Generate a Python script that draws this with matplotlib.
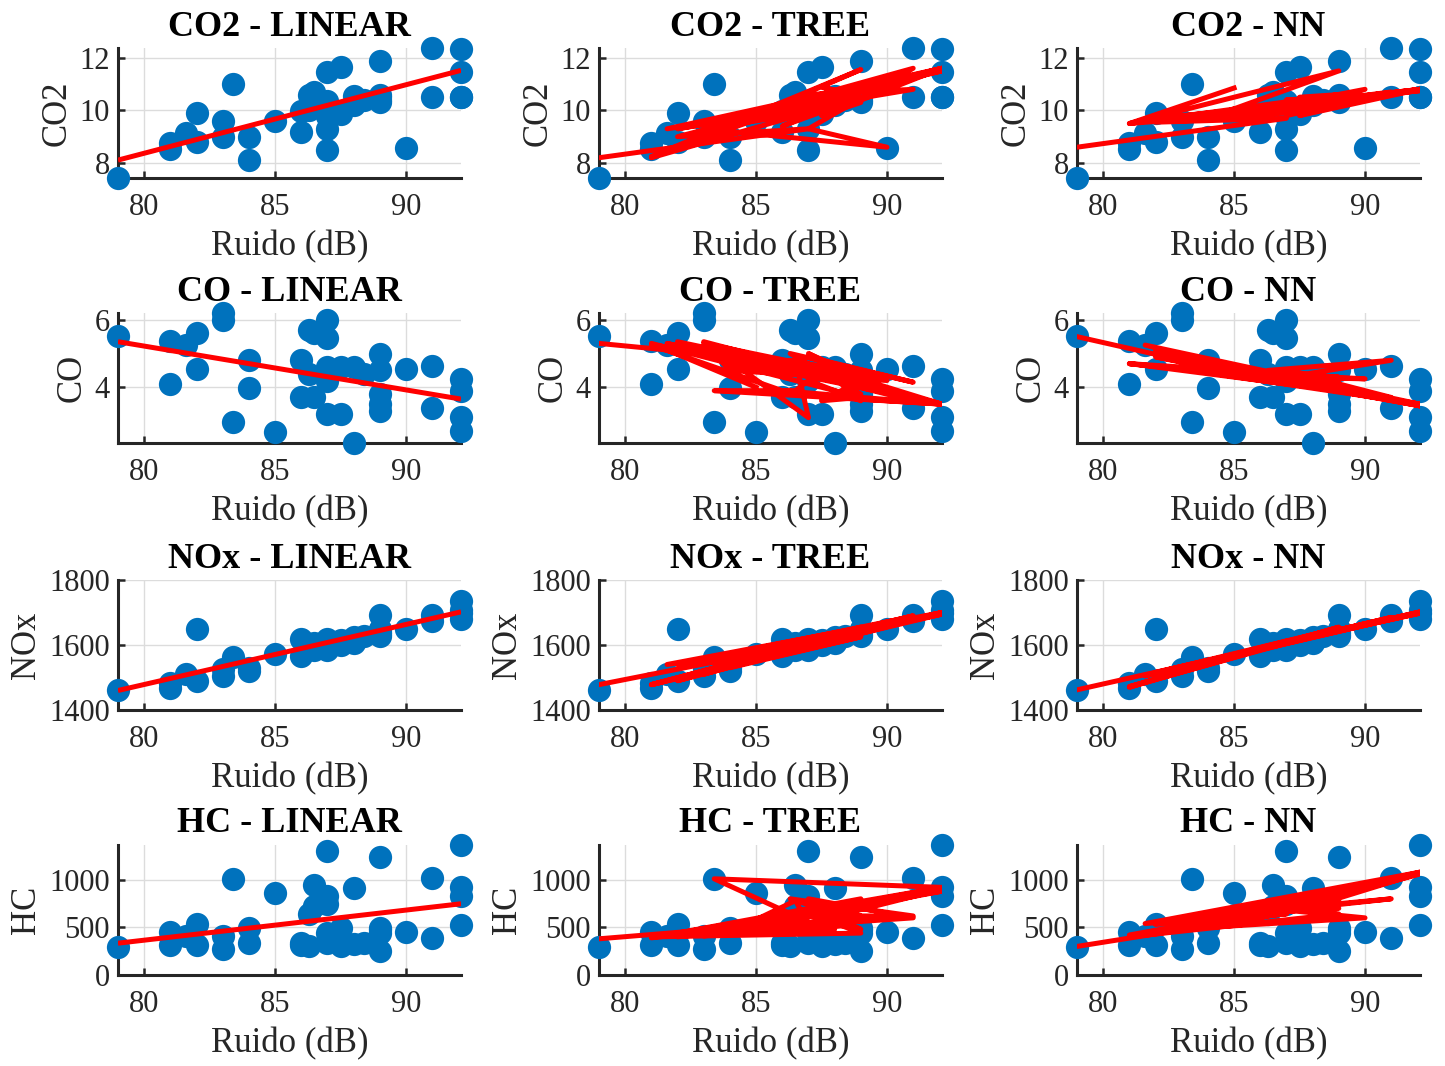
import numpy as np
import matplotlib
matplotlib.use("Agg")
import matplotlib.pyplot as plt

plt.rcParams["font.family"] = ["Liberation Serif", "DejaVu Serif"]

# ruido (dB) de cada ensayo, ordenado de menor a mayor
ruido = [79.0, 81.0, 81.0, 81.6, 82.0, 82.0, 83.0, 83.0, 83.4, 84.0,
         84.0, 85.0, 86.0, 86.0, 86.3, 86.3, 86.5, 86.5, 87.0, 87.0,
         87.0, 87.0, 87.0, 87.5, 87.5, 88.0, 88.0, 88.4, 89.0, 89.0,
         89.0, 89.0, 89.0, 90.0, 91.0, 91.0, 92.1, 92.1, 92.1, 92.1]

# emisiones medidas
co2 = [7.43, 8.75, 8.55, 9.14, 9.90, 8.80, 9.60, 9.00, 11.0, 9.00,
       8.13, 9.60, 9.16, 9.97, 10.6, 10.0, 10.7, 10.3, 11.45, 9.30,
       8.50, 10.36, 9.80, 11.65, 9.85, 10.55, 10.2, 10.4, 11.86, 10.4,
       10.6, 10.3, 10.5, 8.58, 12.38, 10.5, 12.35, 11.45, 10.5, 10.5]
co = [5.52, 5.38, 4.10, 5.25, 5.60, 4.53, 6.20, 6.00, 2.98, 4.80,
      3.97, 2.67, 4.80, 3.70, 5.70, 4.40, 3.70, 5.60, 6.00, 5.45,
      4.60, 4.20, 3.20, 3.20, 4.60, 2.35, 4.60, 4.40, 5.00, 4.50,
      3.80, 3.50, 3.30, 4.53, 4.63, 3.40, 4.25, 3.90, 3.13, 2.72]
nox = [1461, 1484, 1468, 1510, 1648, 1489, 1525, 1504, 1562, 1520,
       1530, 1572, 1619, 1567, 1600, 1590, 1605, 1585, 1610, 1590,
       1585, 1600, 1620, 1615, 1600, 1625, 1605, 1629, 1691, 1629,
       1640, 1650, 1635, 1648, 1691, 1673, 1736, 1707, 1681, 1700]
hc = [296, 452, 317, 410, 532, 317, 410, 271, 1009, 497,
      341, 863, 341, 320, 636, 306, 950, 723, 1297, 828,
      741, 445, 341, 497, 306, 915, 323, 340, 1235, 497,
      445, 254, 470, 452, 1019, 393, 1360, 925, 828, 522]

# orden de los ensayos en el registro (así se trazan las predicciones)
orden = [0, 20, 5, 36, 13, 2, 28, 9, 17, 22, 6, 38, 25, 30, 14, 34, 19, 33, 10, 7,
         26, 15, 3, 37, 8, 16, 21, 31, 24, 39, 12, 27, 4, 35, 18, 29, 23, 32, 1, 11]

# recta del modelo lineal (extremos)
lin_x = [79.0, 92.1]
lin_co2 = [8.11, 11.52]
lin_co = [5.35, 3.65]
lin_nox = [1460, 1702]
lin_hc = [334, 748]

# predicciones del árbol
tree_co2 = [8.2, 8.2, 8.25, 9.3, 9.3, 9.0, 9.3, 9.2, 9.5, 9.4,
            9.2, 9.8, 9.4, 10.0, 10.3, 10.0, 10.4, 10.2, 10.6, 9.3,
            9.3, 10.3, 9.9, 10.9, 9.8, 10.6, 10.3, 10.4, 11.55, 10.4,
            10.5, 10.3, 10.5, 8.6, 11.6, 10.8, 11.6, 11.6, 11.5, 11.6]
tree_co = [5.3, 5.3, 5.25, 5.3, 5.35, 5.1, 5.35, 5.3, 3.9, 4.6,
           4.5, 4.0, 4.5, 3.9, 5.0, 4.4, 3.9, 4.8, 5.0, 4.9,
           4.7, 4.2, 3.1, 3.6, 4.6, 3.7, 4.5, 4.3, 4.5, 4.2,
           3.8, 3.6, 3.7, 4.2, 4.15, 3.6, 3.5, 3.5, 3.5, 3.5]
tree_nox = [1478, 1478, 1478, 1540, 1540, 1490, 1520, 1510, 1545, 1530,
            1535, 1560, 1590, 1585, 1600, 1595, 1605, 1600, 1612, 1608,
            1605, 1610, 1615, 1620, 1615, 1625, 1620, 1630, 1625, 1650,
            1645, 1655, 1650, 1660, 1690, 1688, 1700, 1700, 1695, 1700]
tree_hc = [380, 400, 390, 420, 430, 400, 410, 420, 1010, 450,
           440, 500, 480, 560, 800, 520, 620, 780, 800, 620,
           560, 700, 540, 600, 650, 700, 480, 520, 800, 620,
           560, 480, 440, 600, 620, 600, 920, 920, 880, 900]

# predicciones de la red neuronal
nn_co2 = [8.6, 9.5, 9.5, 9.6, 9.7, 9.55, 9.7, 9.6, 9.8, 9.7,
          9.65, 10.85, 9.8, 9.9, 10.1, 9.9, 10.2, 10.0, 10.4, 9.8,
          9.7, 10.1, 9.9, 10.5, 9.8, 10.3, 10.1, 10.2, 11.5, 10.4,
          10.5, 10.3, 10.6, 10.8, 10.7, 10.6, 10.8, 10.8, 10.75, 10.8]
nn_co = [5.5, 4.7, 4.7, 5.25, 5.1, 4.9, 4.7, 4.8, 4.5, 4.6,
         4.5, 4.4, 4.4, 4.3, 4.5, 4.3, 4.2, 4.4, 4.5, 4.3,
         4.1, 4.3, 4.2, 4.1, 4.3, 4.0, 4.2, 4.1, 4.3, 4.2,
         4.0, 4.1, 3.9, 4.25, 4.8, 3.7, 3.45, 3.5, 3.5, 3.45]
nn_nox = [1462, 1470, 1472, 1505, 1515, 1510, 1530, 1525, 1540, 1550,
          1548, 1570, 1590, 1588, 1595, 1593, 1600, 1598, 1610, 1608,
          1607, 1610, 1612, 1620, 1618, 1630, 1628, 1640, 1650, 1648,
          1652, 1650, 1655, 1665, 1685, 1683, 1700, 1702, 1700, 1698]
nn_hc = [300, 400, 420, 540, 530, 450, 540, 520, 560, 520,
         500, 580, 620, 600, 680, 640, 700, 660, 720, 680,
         650, 700, 640, 720, 680, 760, 700, 740, 820, 780,
         740, 700, 640, 600, 800, 1000, 1080, 1080, 1060, 1070]

gases = ["CO2", "CO", "NOx", "HC"]
modelos = ["LINEAR", "TREE", "NN"]
medidas = {"CO2": co2, "CO": co, "NOx": nox, "HC": hc}
lineal = {"CO2": lin_co2, "CO": lin_co, "NOx": lin_nox, "HC": lin_hc}
pred = {"TREE": {"CO2": tree_co2, "CO": tree_co, "NOx": tree_nox, "HC": tree_hc},
        "NN": {"CO2": nn_co2, "CO": nn_co, "NOx": nn_nox, "HC": nn_hc}}
yticks = {"CO2": [8, 10, 12], "CO": [4, 6], "NOx": [1400, 1600, 1800], "HC": [0, 500, 1000]}
ylims = {"CO2": (min(co2), 12.37), "CO": (min(co), 6.2), "NOx": (1400, 1800), "HC": (0, 1365)}

AZUL, ROJO, EJE = "#0072BD", "#FF0000", "#262626"
W, H = 1445, 1066
lefts = [118, 599, 1077]          # px
tops = [48, 313, 580, 845]        # px
aw, ah = 343, 130

fig = plt.figure(figsize=(W / 100, H / 100), dpi=100)
idx = np.array(orden)
x = np.array(ruido)[idx]
for r, g in enumerate(gases):
    y = np.array(medidas[g])[idx]
    for c, m in enumerate(modelos):
        ax = fig.add_axes([lefts[c] / W, 1 - (tops[r] + ah) / H, aw / W, ah / H])
        ax.scatter(x, y, s=280, color=AZUL, linewidths=0, zorder=3, clip_on=False)
        if m == "LINEAR":
            ax.plot(lin_x, lineal[g], color=ROJO, lw=3.6, zorder=4, solid_capstyle="butt")
        else:
            ax.plot(x, np.array(pred[m][g])[idx], color=ROJO, lw=3.6, zorder=4)
        ax.set_xlim(min(ruido), max(ruido))
        ax.set_ylim(*ylims[g])
        ax.set_xticks([80, 85, 90])
        ax.set_yticks(yticks[g])
        ax.grid(True, color="#dcdcdc", lw=1.0, zorder=0)
        ax.set_axisbelow(True)
        for s in ["top", "right"]:
            ax.spines[s].set_visible(False)
        for s in ["left", "bottom"]:
            ax.spines[s].set_linewidth(2.2)
            ax.spines[s].set_color(EJE)
        ax.tick_params(direction="in", length=5, width=1.8, color=EJE,
                       labelsize=22, labelcolor=EJE)
        ax.tick_params(axis="x", pad=11)
        ax.tick_params(axis="y", pad=6)
        ax.set_title(f"{g} - {m}", fontsize=26, fontweight="bold", pad=9)
        ax.set_xlabel("Ruido (dB)", fontsize=25, color=EJE, labelpad=6)
        ax.set_ylabel(g, fontsize=25, color=EJE, labelpad=4)

fig.savefig("out.png", dpi=100)
